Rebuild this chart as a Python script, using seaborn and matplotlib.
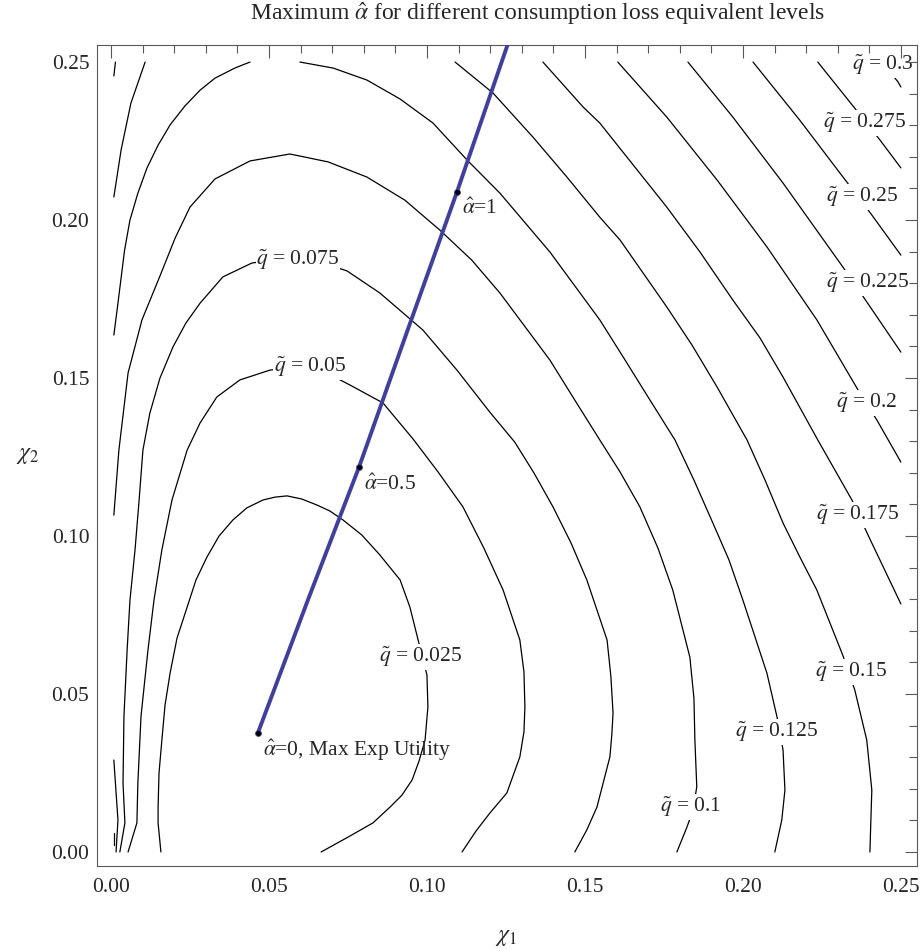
import matplotlib
matplotlib.use('Agg')
import matplotlib.pyplot as plt
import pandas as pd
import seaborn as sns
from matplotlib.ticker import MultipleLocator, FormatStrFormatter

sns.set_theme(style='white')
plt.rcParams['font.family'] = ['Liberation Serif', 'DejaVu Serif']
plt.rcParams['mathtext.fontset'] = 'stix'

# contour paths: (chi1, chi2) per level
q025_x = [0.0158, 0.0149, 0.0149, 0.0152, 0.0161, 0.0171, 0.0187, 0.0209, 0.0241, 0.0269, 0.0304,
          0.0342, 0.0386, 0.0430, 0.0481, 0.0519, 0.0557, 0.0604, 0.0652, 0.0693, 0.0734, 0.0794,
          0.0851, 0.0915, 0.0946, 0.0972, 0.1000, 0.1003, 0.0994, 0.0975, 0.0953, 0.0921, 0.0883,
          0.0829, 0.0750, 0.0665]
q025_y = [0.0, 0.0092, 0.0142, 0.0250, 0.0354, 0.0465, 0.0566, 0.0677, 0.0775, 0.0861, 0.0934,
          0.1000, 0.1051, 0.1089, 0.1114, 0.1123, 0.1127, 0.1117, 0.1098, 0.1079, 0.1051, 0.1003,
          0.0940, 0.0861, 0.0775, 0.0671, 0.0560, 0.0459, 0.0354, 0.0288, 0.0228, 0.0180, 0.0142,
          0.0092, 0.0047, 0.0]

q050_x = [0.0054, 0.0082, 0.0085, 0.0095, 0.0117, 0.0136, 0.0161, 0.0193, 0.0241, 0.0282, 0.0335,
          0.0408, 0.0503, 0.0598, 0.0677, 0.0756, 0.0861, 0.0956, 0.1035, 0.1114, 0.1180, 0.1241,
          0.1294, 0.1307, 0.1310, 0.1307, 0.1294, 0.1253, 0.1199, 0.1155, 0.1111]
q050_y = [0.0, 0.0092, 0.0218, 0.0430, 0.0639, 0.0797, 0.0956, 0.1114, 0.1272, 0.1358, 0.1440,
          0.1494, 0.1525, 0.1538, 0.1519, 0.1478, 0.1421, 0.1307, 0.1203, 0.1092, 0.0962, 0.0829,
          0.0671, 0.0570, 0.0459, 0.0380, 0.0301, 0.0187, 0.0123, 0.0066, 0.0]

q075_x = [0.0028, 0.0044, 0.0038, 0.0041, 0.0051, 0.0060, 0.0076, 0.0089, 0.0101, 0.0123, 0.0155,
          0.0196, 0.0237, 0.0282, 0.0354, 0.0446, 0.0566, 0.0661, 0.0747, 0.0851, 0.0987, 0.1095,
          0.1199, 0.1278, 0.1339, 0.1399, 0.1456, 0.1506, 0.1570, 0.1582, 0.1589, 0.1585, 0.1579,
          0.1538, 0.1506, 0.1468]
q075_y = [0.0, 0.0092, 0.0218, 0.0430, 0.0639, 0.0797, 0.0956, 0.1114, 0.1272, 0.1389, 0.1500,
          0.1598, 0.1674, 0.1737, 0.1820, 0.1864, 0.1880, 0.1867, 0.1839, 0.1769, 0.1652, 0.1525,
          0.1392, 0.1297, 0.1199, 0.1092, 0.0978, 0.0861, 0.0671, 0.0557, 0.0440, 0.0370, 0.0301,
          0.0142, 0.0070, 0.0]

q100_x = [0.0009, 0.0025, 0.0054, 0.0098, 0.0155, 0.0203, 0.0250, 0.0329, 0.0440, 0.0566, 0.0687,
          0.0810, 0.0930, 0.1041, 0.1142, 0.1231, 0.1389, 0.1468, 0.1547, 0.1611, 0.1674, 0.1731,
          0.1778, 0.1832, 0.1845, 0.1848, 0.1854, 0.1842, 0.1823, 0.1791]
q100_y = [0.1066, 0.1272, 0.1516, 0.1684, 0.1823, 0.1943, 0.2041, 0.2130, 0.2187, 0.2209, 0.2184,
          0.2136, 0.2063, 0.1968, 0.1873, 0.1769, 0.1557, 0.1430, 0.1304, 0.1203, 0.1092, 0.0962,
          0.0829, 0.0617, 0.0487, 0.0354, 0.0206, 0.0133, 0.0079, 0.0]

q125_left_x = [0.0009, 0.0022, 0.0043, 0.0060, 0.0085, 0.0114, 0.0149, 0.0187, 0.0234, 0.0282,
               0.0329, 0.0392, 0.0440]
q125_left_y = [0.1636, 0.1737, 0.1905, 0.2000, 0.2085, 0.2165, 0.2237, 0.2301, 0.2361, 0.2411,
               0.2449, 0.2481, 0.25]
q125_right_x = [0.0598, 0.0703, 0.0810, 0.0915, 0.1019, 0.1127, 0.1231, 0.1389, 0.1547, 0.1627,
                0.1706, 0.1785, 0.1845, 0.1905, 0.1956, 0.2000, 0.2076, 0.2108, 0.2127, 0.2130,
                0.2133, 0.2123, 0.2101]
q125_right_y = [0.25, 0.2481, 0.2443, 0.2383, 0.2307, 0.2190, 0.2085, 0.1899, 0.1684, 0.1557,
                0.1430, 0.1304, 0.1177, 0.1041, 0.0924, 0.0797, 0.0566, 0.0427, 0.0323, 0.0259,
                0.0196, 0.0101, 0.0]

q150_left_x = [0.0009, 0.0032, 0.0063, 0.0108]
q150_left_y = [0.2073, 0.2222, 0.2370, 0.25]
q150_right_x = [0.1089, 0.1209, 0.1335, 0.1443, 0.1547, 0.1611, 0.1759, 0.1839, 0.1918, 0.2013,
                0.2070, 0.2127, 0.2180, 0.2234, 0.2316, 0.2354, 0.2392, 0.2408, 0.2405, 0.2402]
q150_right_y = [0.25, 0.2402, 0.2263, 0.2136, 0.2009, 0.1937, 0.1725, 0.1604, 0.1472, 0.1304,
                0.1177, 0.1041, 0.0934, 0.0829, 0.0623, 0.0513, 0.0354, 0.0196, 0.0101, 0.0]

q175_x = [0.1367, 0.1494, 0.1547, 0.1759, 0.1864, 0.1968, 0.2054, 0.2127, 0.2237, 0.2345, 0.2396, 0.25]
q175_y = [0.25, 0.2358, 0.2307, 0.2041, 0.1899, 0.1747, 0.1627, 0.1503, 0.1304, 0.1114, 0.1003, 0.0785]

q200_x = [0.1604, 0.1759, 0.1918, 0.2076, 0.2234, 0.2361, 0.2424, 0.25]
q200_y = [0.25, 0.2326, 0.2127, 0.1915, 0.1684, 0.1468, 0.1367, 0.1234]

q225_x = [0.1826, 0.1968, 0.2127, 0.2323, 0.2392, 0.25]
q225_y = [0.25, 0.2326, 0.2117, 0.1842, 0.1741, 0.1582]

q250_x = [0.2032, 0.2180, 0.2329, 0.2408, 0.25]
q250_y = [0.25, 0.2316, 0.2120, 0.2016, 0.1889]

q275_x = [0.2237, 0.2354, 0.2434, 0.25]
q275_y = [0.25, 0.2354, 0.2253, 0.2165]

q300_x = [0.2440, 0.2491, 0.25]
q300_y = [0.25, 0.2437, 0.2421]

# small broken pieces hugging chi1 = 0
edge_top_x = [0.0014, 0.0009]
edge_top_y = [0.25, 0.2456]
edge_low_x = [0.0009, 0.0022, 0.0016]
edge_low_y = [0.0291, 0.0101, 0.0]
edge_tiny_x = [0.0009, 0.0009]
edge_tiny_y = [0.0060, 0.0022]

# path of maximum alpha-hat
alpha_path_x = [0.0465, 0.0623, 0.0785, 0.0940, 0.1095, 0.1256, 0.1263]
alpha_path_y = [0.0377, 0.0797, 0.1218, 0.1655, 0.2089, 0.2557, 0.2576]
alpha_pts_x = [0.0465, 0.0785, 0.1095]
alpha_pts_y = [0.0377, 0.1218, 0.2089]
alpha_text = [r'$\hat{\alpha}$=0, Max Exp Utility', r'$\hat{\alpha}$=0.5', r'$\hat{\alpha}$=1']

levels = [0.025, 0.05, 0.075, 0.1, 0.125, 0.15, 0.175, 0.2, 0.225, 0.25, 0.275, 0.3]

segments = [
    (q025_x, q025_y), (q050_x, q050_y), (q075_x, q075_y), (q100_x, q100_y),
    (q125_left_x, q125_left_y), (q125_right_x, q125_right_y),
    (q150_left_x, q150_left_y), (q150_right_x, q150_right_y),
    (q175_x, q175_y), (q200_x, q200_y), (q225_x, q225_y), (q250_x, q250_y),
    (q275_x, q275_y), (q300_x, q300_y),
    (edge_top_x, edge_top_y), (edge_low_x, edge_low_y), (edge_tiny_x, edge_tiny_y),
]
rows = []
for i, (xs, ys) in enumerate(segments):
    for a, b in zip(xs, ys):
        rows.append({'seg': i, 'chi1': a, 'chi2': b})
df = pd.DataFrame(rows)

fig = plt.figure(figsize=(9.23, 9.51), dpi=100)
ax = fig.add_axes([0.1051, 0.0894, 0.8884, 0.8633])

sns.lineplot(data=df, x='chi1', y='chi2', units='seg', estimator=None, sort=False,
             color='black', lw=0.9, legend=False, ax=ax, zorder=2)

# contour labels (centre of each label)
label_spots = [(0.0981, 0.0617), (0.0630, 0.1535), (0.0592, 0.1873), (0.1835, 0.0142),
               (0.2108, 0.0380), (0.2342, 0.0570), (0.2364, 0.1066), (0.2392, 0.1421),
               (0.2396, 0.1801), (0.2377, 0.2073), (0.2386, 0.2307), (0.2443, 0.2491)]
for lv, (lx, ly) in zip(levels, label_spots):
    ax.text(lx, ly, r'$\tilde{q}$ = ' + f'{lv:g}', ha='center', va='center', fontsize=15.5,
            zorder=2.2, bbox=dict(facecolor='white', edgecolor='none', pad=0.5))

sns.lineplot(x=alpha_path_x, y=alpha_path_y, sort=False, estimator=None, color='#40409c',
             lw=2.8, ax=ax, zorder=3)
sns.scatterplot(x=alpha_pts_x, y=alpha_pts_y, color='black', s=18, edgecolor='#40409c',
                linewidth=0.6, ax=ax, zorder=4)
for px, py, t in zip(alpha_pts_x, alpha_pts_y, alpha_text):
    ax.annotate(t, (px, py), xytext=(3.5, -12.5), textcoords='offset points',
                ha='left', va='center', fontsize=15.5, zorder=5)

ax.set_xlim(-0.00443, 0.2551)
ax.set_ylim(-0.00443, 0.2554)
ax.set_xlabel('')
ax.set_ylabel('')
for a in (ax.xaxis, ax.yaxis):
    a.set_major_locator(MultipleLocator(0.05))
    a.set_minor_locator(MultipleLocator(0.01))
    a.set_major_formatter(FormatStrFormatter('%.2f'))
ax.set_axisbelow(False)
ax.tick_params(which='both', direction='in', top=True, right=True, color='0.35',
               width=0.8, labelsize=15.5)
ax.tick_params(axis='x', pad=8.5)
ax.tick_params(axis='y', pad=5.5)
ax.tick_params(which='major', length=9)
ax.tick_params(which='minor', length=5.5)
for s in ax.spines.values():
    s.set_color('0.35')
    s.set_linewidth(0.8)

fig.text(538 / 923, 1 - 14 / 951, r'Maximum $\hat{\alpha}$ for different consumption loss equivalent levels',
         ha='center', va='center', fontsize=17)
fig.text(28 / 923, 1 - 455 / 951, r'$\chi_2$', ha='center', va='center', fontsize=17)
fig.text(506 / 923, 1 - 938 / 951, r'$\chi_1$', ha='center', va='center', fontsize=17)

fig.savefig('out.png', dpi=100)
